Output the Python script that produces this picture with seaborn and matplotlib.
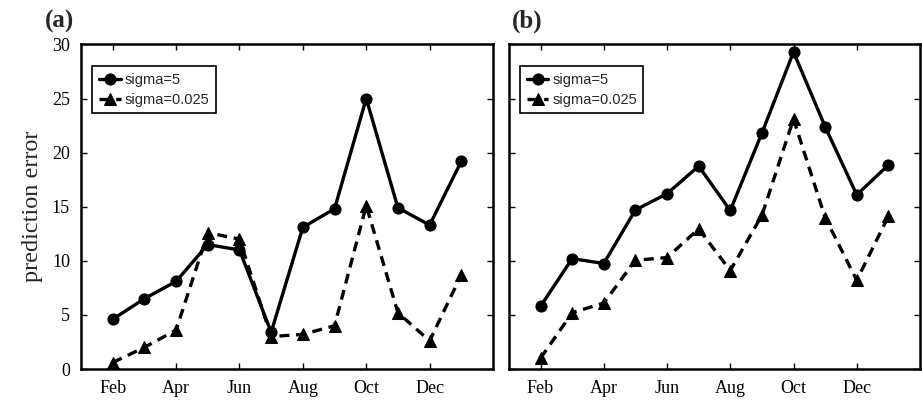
import matplotlib
matplotlib.use("Agg")
import matplotlib.pyplot as plt
import seaborn as sns
import pandas as pd

months = ["Feb", "Mar", "Apr", "May", "Jun", "Jul", "Aug", "Sep", "Oct", "Nov", "Dec", "Jan"]
month_pos = [2, 3, 4, 5, 6, 7, 8, 9, 10, 11, 12, 13]
tick_pos = [2, 4, 6, 8, 10, 12]
tick_labels = ["Feb", "Apr", "Jun", "Aug", "Oct", "Dec"]
series_names = ["sigma=5", "sigma=0.025"]

a_sigma5 = [4.6, 6.5, 8.1, 11.5, 11.0, 3.4, 13.1, 14.8, 25.0, 14.9, 13.3, 19.2]
a_sigma0025 = [0.6, 2.0, 3.6, 12.6, 12.0, 3.0, 3.2, 4.0, 15.1, 5.2, 2.6, 8.7]
b_sigma5 = [5.8, 10.2, 9.75, 14.7, 16.2, 18.75, 14.65, 21.8, 29.3, 22.4, 16.1, 18.85]
b_sigma0025 = [1.0, 5.2, 6.1, 10.05, 10.3, 12.95, 9.1, 14.2, 23.1, 14.0, 8.2, 14.1]

panels = [("(a)", a_sigma5, a_sigma0025), ("(b)", b_sigma5, b_sigma0025)]

sns.set_style("ticks")
plt.rcParams["font.family"] = ["Liberation Serif", "DejaVu Serif"]

fig = plt.figure(figsize=(9.22, 4.0), dpi=100)
ax_a = fig.add_axes([0.0879, 0.0775, 0.4468, 0.8115])
ax_b = fig.add_axes([0.552, 0.0775, 0.4458, 0.8115])

for ax, (label, s5, s0025) in zip([ax_a, ax_b], panels):
    df = pd.DataFrame({
        "x": month_pos * 2,
        "y": s5 + s0025,
        "series": [series_names[0]] * len(s5) + [series_names[1]] * len(s0025),
    })
    sns.lineplot(
        data=df, x="x", y="y", style="series", style_order=series_names,
        markers={series_names[0]: "o", series_names[1]: "^"},
        dashes={series_names[0]: "", series_names[1]: (3, 2)},
        color="black", linewidth=2.4, markersize=8, markeredgecolor="black",
        ax=ax, legend=True,
    )
    ax.set_xlim(1, 14)
    ax.set_ylim(0, 30)
    ax.set_xticks(tick_pos)
    ax.set_xticklabels(tick_labels)
    ax.set_yticks([0, 5, 10, 15, 20, 25, 30])
    ax.set_xlabel("")
    ax.set_ylabel("")
    ax.tick_params(direction="in", top=True, right=True, length=4, width=1,
                   labelsize=13, colors="black", pad=8)
    for sp in ax.spines.values():
        sp.set_linewidth(1.8)
        sp.set_color("black")
        sp.set_visible(True)
    leg = ax.legend(loc="upper left", bbox_to_anchor=(0.027, 0.932),
                    handlelength=1.5, handletextpad=0.25, borderpad=0.45,
                    labelspacing=0.4, fancybox=False, framealpha=1,
                    edgecolor="black", borderaxespad=0.0,
                    prop={"family": ["Liberation Sans", "DejaVu Sans"], "size": 10.5})
    leg.get_frame().set_linewidth(1.2)
    ax.text(-0.087 if label == "(a)" else 0.007, 1.07, label, transform=ax.transAxes,
            fontsize=18, fontweight="bold", ha="left", va="center")

ax_b.tick_params(labelleft=False)
ax_a.set_ylabel("prediction error", fontsize=17.5, labelpad=6)

fig.savefig("out.png", dpi=100)
